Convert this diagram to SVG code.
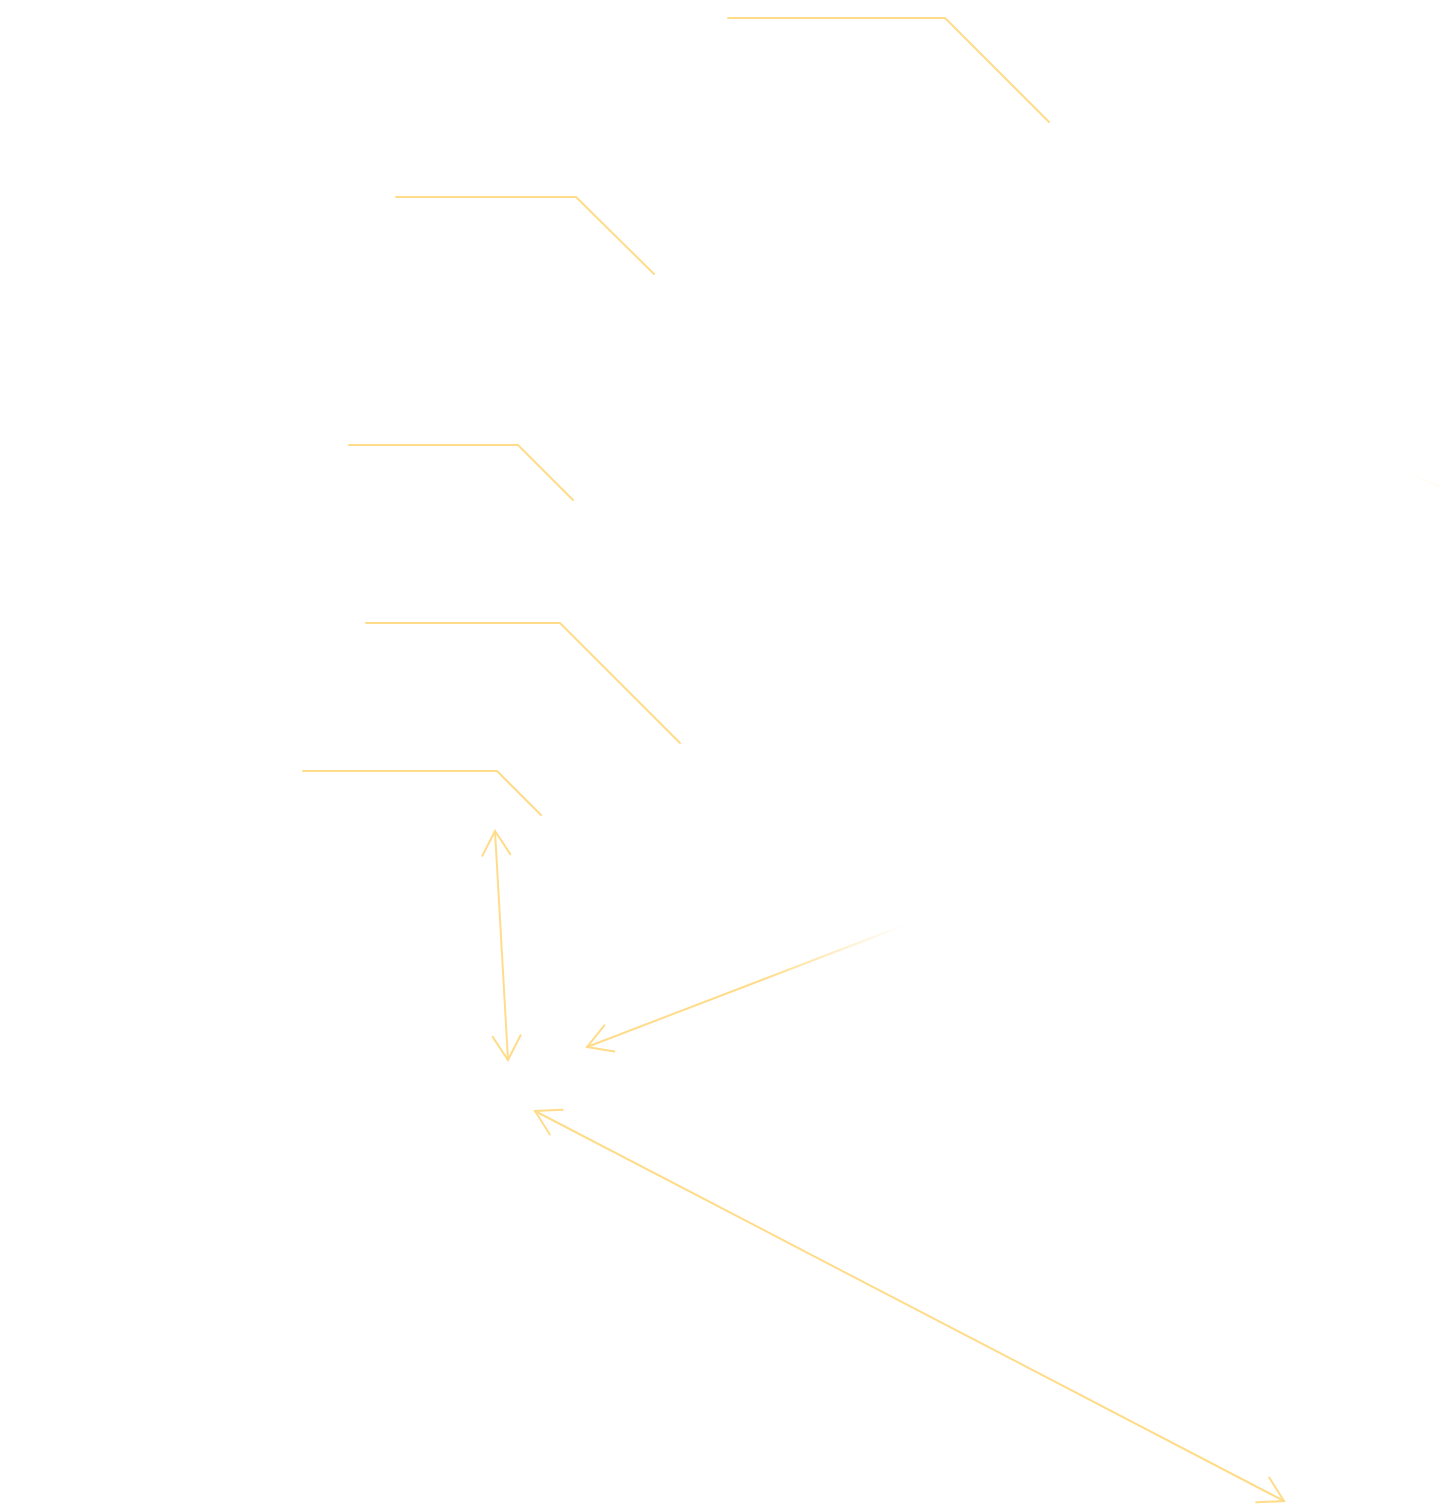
<svg xmlns="http://www.w3.org/2000/svg" width="1439" height="1510" viewBox="0 0 1439 1510">
<style>
.c{fill:none;stroke:#ffdc8a;stroke-width:2;stroke-linecap:round;stroke-linejoin:miter}
</style>
<defs>
<marker id="ah" markerUnits="userSpaceOnUse" viewBox="-30 -20 32 40" refX="0" refY="0" markerWidth="32" markerHeight="40" orient="auto-start-reverse" overflow="visible">
<path d="M-24,-14 L0,0 L-24,14" fill="none" stroke="#ffdc8a" stroke-width="2" stroke-linecap="round"/>
</marker>
<linearGradient id="fade" gradientUnits="userSpaceOnUse" x1="587" y1="1047" x2="905" y2="925">
<stop offset="0" stop-color="#ffdc8a" stop-opacity="1"/>
<stop offset="0.55" stop-color="#ffdc8a" stop-opacity="1"/>
<stop offset="1" stop-color="#ffdc8a" stop-opacity="0"/>
</linearGradient>
<linearGradient id="fade2" gradientUnits="userSpaceOnUse" x1="1439" y1="486" x2="1410" y2="474">
<stop offset="0" stop-color="#ffdc8a" stop-opacity="0.12"/>
<stop offset="1" stop-color="#ffdc8a" stop-opacity="0"/>
</linearGradient>
</defs>
<rect width="1439" height="1510" fill="#ffffff"/>
<g id="connectors">
<polyline class="c" points="728,18 945,18 1049,122"/>
<polyline class="c" points="396,197 576,197 654,274"/>
<polyline class="c" points="349,445 518,445 573,500"/>
<polyline class="c" points="366,623 560,623 680,743"/>
<polyline class="c" points="303,771 497,771 541,815"/>
<line class="c" x1="495" y1="831" x2="508" y2="1060" marker-start="url(#ah)" marker-end="url(#ah)"/>
<path d="M905,925 L587,1047" fill="none" stroke="url(#fade)" stroke-width="2" stroke-linecap="round" marker-end="url(#ah)"/>
<line class="c" x1="535" y1="1111" x2="1284" y2="1501" marker-start="url(#ah)" marker-end="url(#ah)"/>
<line x1="1410" y1="474" x2="1439" y2="486" stroke="url(#fade2)" stroke-width="2"/>
</g>
</svg>
